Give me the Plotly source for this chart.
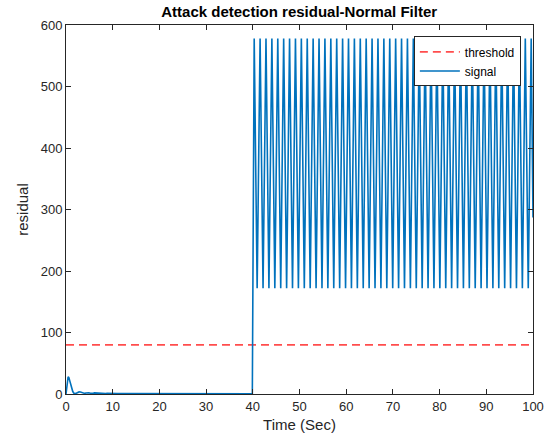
import plotly.graph_objects as go

# Residual of the normal filter before the attack: initial transient, then near zero
pre_t = [0.0, 0.15, 0.3, 0.45, 0.6, 0.8, 1.0, 1.2, 1.45, 1.7, 1.95, 2.2, 2.5, 2.8,
         3.1, 3.4, 3.7, 4.0, 4.3, 4.6, 4.9, 5.2, 5.5, 5.8, 6.1, 6.4, 6.7, 7.0,
         7.3, 7.6, 7.9, 8.2, 8.5, 8.8, 9.1, 9.4, 9.7, 10.0, 11.0, 12.0, 15.0,
         20.0, 25.0, 30.0, 35.0, 39.9]
pre_v = [0.0, 14.0, 24.0, 28.0, 27.0, 22.0, 15.0, 9.0, 4.0, 1.2, 0.6, 1.4, 2.6, 3.4,
         3.2, 2.4, 1.4, 1.0, 1.6, 2.2, 2.0, 1.3, 0.9, 1.3, 1.8, 1.6, 1.0, 0.8,
         1.2, 1.5, 1.3, 0.9, 0.8, 1.1, 1.2, 1.0, 0.8, 0.9, 0.8, 0.7, 0.6,
         0.5, 0.5, 0.5, 0.5, 0.5]

# Residual once the attack starts: repeated peak/trough cycle
attack_start = 40.3
attack_period = 1.262
attack_cycles = 47
cycle_offsets = [0.0, 0.631]       # peak, trough within one period
cycle_values = [578.0, 172.0]
final_t = [attack_start + attack_cycles * attack_period, 100.0]
final_v = [578.0, 287.0]

threshold_t = [0.0, 100.0]
threshold_v = [80.0, 80.0]

x_ticks = [0, 10, 20, 30, 40, 50, 60, 70, 80, 90, 100]
y_ticks = [0, 100, 200, 300, 400, 500, 600]

# assemble the full signal trace
sig_t = list(pre_t)
sig_v = list(pre_v)
for k in range(attack_cycles):
    for off, val in zip(cycle_offsets, cycle_values):
        sig_t.append(attack_start + k * attack_period + off)
        sig_v.append(val)
sig_t += final_t
sig_v += final_v

FONT = "Liberation Sans, Arial, Helvetica, sans-serif"
INK = "#262626"

fig = go.Figure()
fig.add_trace(go.Scatter(
    x=threshold_t, y=threshold_v, mode="lines", name="threshold",
    line=dict(color="#ff4d4d", width=1.8, dash="8px,5px"),
))
fig.add_trace(go.Scatter(
    x=sig_t, y=sig_v, mode="lines", name="signal",
    line=dict(color="#0072bd", width=1.6),
))

axis_common = dict(
    showgrid=False, zeroline=False, showline=True, mirror="allticks",
    linecolor=INK, linewidth=1, ticks="inside", ticklen=5, tickcolor=INK,
    tickfont=dict(family=FONT, size=13, color=INK), automargin=False,
)
fig.update_xaxes(range=[0, 100], tickvals=x_ticks, title=dict(
    text="Time (Sec)", font=dict(family=FONT, size=15, color=INK), standoff=6),
    **axis_common)
fig.update_yaxes(range=[0, 600], tickvals=y_ticks, title=dict(
    text="residual", font=dict(family=FONT, size=15, color=INK), standoff=8),
    **axis_common)

fig.update_layout(
    width=552, height=446,
    margin=dict(l=66, r=19, t=25, b=52, autoexpand=False),
    paper_bgcolor="white", plot_bgcolor="white",
    title=dict(text="<b>Attack detection residual-Normal Filter</b>",
               font=dict(family=FONT, size=15, color="black"),
               x=0.542, xanchor="center", y=0.973, yanchor="middle"),
    legend=dict(x=0.974, y=0.969, xanchor="right", yanchor="top",
                bgcolor="white", bordercolor=INK, borderwidth=1,
                font=dict(family=FONT, size=12, color="black"),
                tracegroupgap=0, itemwidth=40),
    showlegend=True,
)

fig.write_html("out.html")
